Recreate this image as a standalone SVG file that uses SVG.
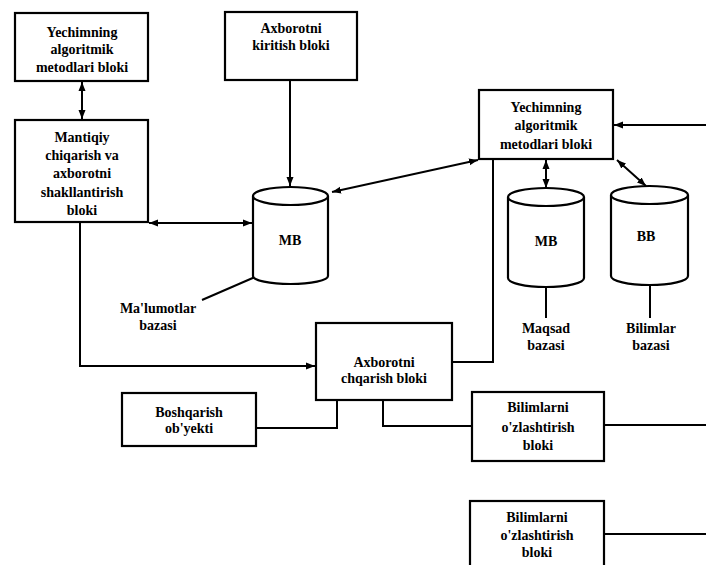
<svg xmlns="http://www.w3.org/2000/svg" width="706" height="565" viewBox="0 0 706 565">
<style>
.box{fill:#fff;stroke:#000;stroke-width:2.2}
.cyl{fill:#fff;stroke:#000;stroke-width:2.2}
.t{font-family:"Liberation Serif","Times New Roman",serif;font-weight:bold;font-size:14px;text-anchor:middle;fill:#000}
.c{fill:none;stroke:#000;stroke-width:2}
.ca{fill:none;stroke:#000;stroke-width:2;marker-end:url(#ah)}
.cb{fill:none;stroke:#000;stroke-width:2;marker-start:url(#ahs);marker-end:url(#ah)}
</style>
<defs>
<marker id="ah" markerWidth="10" markerHeight="8" refX="9" refY="4" orient="auto" markerUnits="userSpaceOnUse">
<path d="M0,0.5 L9,4 L0,7.5 Z" fill="#000"/>
</marker>
<marker id="ahs" markerWidth="10" markerHeight="8" refX="1" refY="4" orient="auto" markerUnits="userSpaceOnUse">
<path d="M10,0.5 L1,4 L10,7.5 Z" fill="#000"/>
</marker>
</defs>
<rect width="706" height="565" fill="#fff"/>
<g id="connectors">
<line class="cb" x1="82" y1="82" x2="82" y2="119"/>
<line class="cb" x1="149" y1="223" x2="252" y2="223"/>
<line class="ca" x1="290" y1="81" x2="290" y2="186"/>
<line class="cb" x1="332" y1="192" x2="478" y2="160"/>
<line class="ca" x1="706" y1="125" x2="614" y2="125"/>
<polyline class="c" points="493,160 493,362 452,362"/>
<line class="cb" x1="546" y1="160" x2="546" y2="188"/>
<line class="cb" x1="617" y1="160" x2="646" y2="186"/>
<line class="c" x1="546" y1="288" x2="546" y2="318"/>
<line class="c" x1="650" y1="286" x2="650" y2="318"/>
<line class="c" x1="255" y1="277" x2="202" y2="300"/>
<polyline class="ca" points="80,222 80,366 315,366"/>
<polyline class="c" points="256,428 337,428 337,400"/>
<polyline class="c" points="383,400 383,426 472,426"/>
<line class="c" x1="604" y1="425" x2="706" y2="425"/>
<line class="c" x1="604" y1="534" x2="706" y2="534"/>
</g>
<g id="n_yech1">
<rect class="box" x="15" y="13" width="133" height="68"/>
<text class="t" x="82" y="37">Yechimning</text>
<text class="t" x="82" y="54">algoritmik</text>
<text class="t" x="82" y="72">metodlari bloki</text>
</g>
<g id="n_mantiqiy">
<rect class="box" x="15" y="120" width="133" height="102"/>
<text class="t" x="82" y="142">Mantiqiy</text>
<text class="t" x="82" y="160">chiqarish va</text>
<text class="t" x="82" y="178">axborotni</text>
<text class="t" x="82" y="197">shakllantirish</text>
<text class="t" x="82" y="215">bloki</text>
</g>
<g id="n_kiritish">
<rect class="box" x="225" y="12" width="132" height="68"/>
<text class="t" x="291" y="33">Axborotni</text>
<text class="t" x="291" y="50">kiritish bloki</text>
</g>
<g id="n_mb1">
<path class="cyl" d="M253,196 L253,276 A37.5,8 0 0 0 328,276 L328,196"/>
<ellipse class="cyl" cx="290.5" cy="196" rx="37.5" ry="9"/>
<text class="t" x="290" y="245">MB</text>
</g>
<g id="n_malumot">
<text class="t" x="158" y="313">Ma'lumotlar</text>
<text class="t" x="158" y="330">bazasi</text>
</g>
<g id="n_yech2">
<rect class="box" x="479" y="90" width="134" height="69"/>
<text class="t" x="546" y="112">Yechimning</text>
<text class="t" x="546" y="130">algoritmik</text>
<text class="t" x="546" y="149">metodlari bloki</text>
</g>
<g id="n_mb2">
<path class="cyl" d="M508,197 L508,278 A38,9 0 0 0 584,278 L584,197"/>
<ellipse class="cyl" cx="546" cy="197" rx="38" ry="9"/>
<text class="t" x="546" y="246">MB</text>
</g>
<g id="n_bb">
<path class="cyl" d="M611,195 L611,276 A38.5,9 0 0 0 688,276 L688,195"/>
<ellipse class="cyl" cx="649.5" cy="195" rx="38.5" ry="9"/>
<text class="t" x="646" y="241">BB</text>
</g>
<g id="n_maqsad">
<text class="t" x="546" y="333">Maqsad</text>
<text class="t" x="546" y="350">bazasi</text>
</g>
<g id="n_bilimlar">
<text class="t" x="651" y="333">Bilimlar</text>
<text class="t" x="651" y="350">bazasi</text>
</g>
<g id="n_chiqarish">
<rect class="box" x="316" y="323" width="136" height="77"/>
<text class="t" x="384" y="367">Axborotni</text>
<text class="t" x="384" y="383">chqarish bloki</text>
</g>
<g id="n_boshqarish">
<rect class="box" x="122" y="393" width="134" height="53"/>
<text class="t" x="189" y="417">Boshqarish</text>
<text class="t" x="189" y="433">ob'yekti</text>
</g>
<g id="n_bilim1">
<rect class="box" x="472" y="392" width="132" height="69"/>
<text class="t" x="538" y="412">Bilimlarni</text>
<text class="t" x="538" y="432">o'zlashtirish</text>
<text class="t" x="538" y="450">bloki</text>
</g>
<g id="n_bilim2">
<rect class="box" x="470" y="501" width="134" height="80"/>
<text class="t" x="537" y="522">Bilimlarni</text>
<text class="t" x="537" y="540">o'zlashtirish</text>
<text class="t" x="537" y="557">bloki</text>
</g>
</svg>
